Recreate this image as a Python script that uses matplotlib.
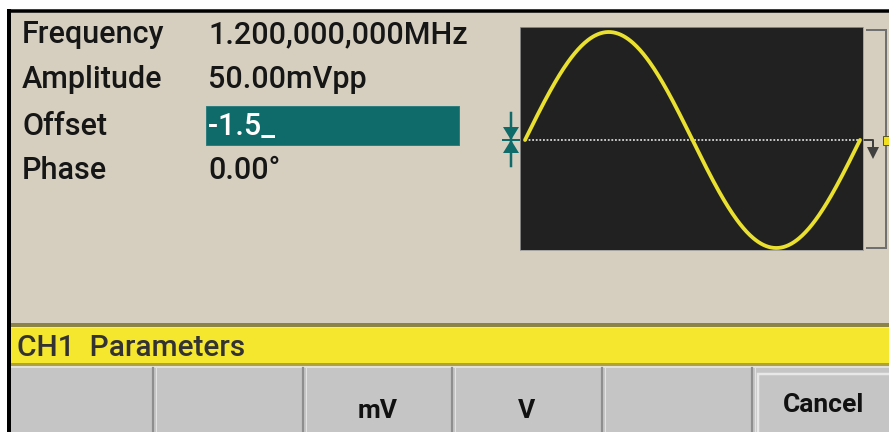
"""
plot.py

Recreates the CH1 Parameters screen of a function generator.
"""

import numpy as np
import matplotlib.pyplot as plt
from matplotlib.patches import Rectangle, Polygon


# ==========================================================
# Data
# ==========================================================

PARAM_LABELS = ["Frequency", "Amplitude", "Offset", "Phase"]
PARAM_VALUES = ["1.200,000,000MHz", "50.00mVpp", "-1.5_", "0.00°"]
ACTIVE_PARAM = "Offset"

STATUS_TEXT = "CH1  Parameters"

SOFTKEYS = ["", "", "mV", "V", "", "Cancel"]

# displayed waveform: one sine cycle, phase in degrees
WAVE_PHASE_DEG = 0.0
WAVE_CYCLES = 1


# ==========================================================
# Colours
# ==========================================================

BG = "#D6CFC0"
TEAL = "#0E6B6A"
SCOPE_BG = "#212121"
WAVE = "#EAE030"
YELLOW = "#F5E62E"
OLIVE = "#8C8447"
KEY_GRAY = "#C5C5C5"
TEXT = "#161616"

FONT = ["Roboto", "DejaVu Sans"]

PX = 0.72  # points per pixel at dpi 100


fig = plt.figure(figsize=(8.89, 4.32), dpi=100)
fig.patch.set_facecolor("white")

ax = fig.add_axes([0, 0, 1, 1])
ax.set_xlim(0, 889)
ax.set_ylim(432, 0)
ax.axis("off")


# ==========================================================
# Panel background and frame
# ==========================================================

ax.add_patch(Rectangle((9, 11), 880, 313, facecolor=BG, edgecolor="none"))

ax.plot([7, 889], [10.5, 10.5], color="black", lw=3.5 * PX,
        solid_capstyle="butt")
ax.plot([9, 9], [9, 432], color="black", lw=4 * PX,
        solid_capstyle="butt")


# ==========================================================
# Parameter list
# ==========================================================

row_baselines = [43, 88, 135, 179]

for label, value, yb in zip(PARAM_LABELS, PARAM_VALUES, row_baselines):

    ax.text(22, yb, label, fontsize=22, family=FONT, fontweight="medium",
            color=TEXT, va="baseline", ha="left")

    value_color = TEXT

    if label == ACTIVE_PARAM:

        ax.add_patch(Rectangle((206, 106), 253, 39, facecolor=TEAL,
                               edgecolor="#2E7E7D", lw=1 * PX))
        value_color = "white"

    ax.text(208, yb, value, fontsize=22, family=FONT, fontweight="medium",
            color=value_color, va="baseline", ha="left")


# ==========================================================
# Waveform display
# ==========================================================

# scope box in pixels: x 520..863, y 27..250
scope = fig.add_axes([520 / 889, (432 - 250) / 432, 343 / 889, 223 / 432])
scope.set_facecolor(SCOPE_BG)

deg = np.linspace(0, 360 * WAVE_CYCLES, 400)
wave = np.sin(np.radians(deg + WAVE_PHASE_DEG))

scope.plot([0, 360 * WAVE_CYCLES], [0, 0], color="#D8D8D8",
           lw=1.8 * PX, linestyle=(0, (1.0, 1.0)))
scope.plot(deg, wave, color=WAVE, lw=3.8 * PX, solid_capstyle="round")

scope.set_xlim(-5 * 360 / 335, 360 + 3 * 360 / 335)
scope.set_ylim(-110 / 108, 113 / 108)
scope.set_xticks([])
scope.set_yticks([])

for side in scope.spines.values():
    side.set_color("#9A9A9A")
    side.set_linewidth(0.8 * PX)


# offset marker on the left
ax.plot([511, 511], [113, 166], color=TEAL, lw=2.5 * PX)
ax.plot([503, 524], [140, 140], color=TEAL, lw=2 * PX)
ax.add_patch(Polygon([(503, 127), (519, 127), (511, 140)],
                     closed=True, facecolor=TEAL, edgecolor="none"))
ax.add_patch(Polygon([(503, 153), (519, 153), (511, 140)],
                     closed=True, facecolor=TEAL, edgecolor="none"))

# output reference arrow on the right
ax.plot([860, 873, 873], [140, 140, 150], color="#404040", lw=2 * PX,
        zorder=5)
ax.add_patch(Polygon([(867, 147), (879, 147), (873, 159)],
                     closed=True, facecolor="#404040", edgecolor="none",
                     zorder=5))

# amplitude bracket
ax.plot([867, 886, 886, 867], [30, 30, 248, 248], color="#707070",
        lw=2 * PX, solid_joinstyle="miter")
ax.add_patch(Rectangle((883, 136), 8, 9, facecolor="#F2E020",
                       edgecolor="#5A5A20", lw=1 * PX, zorder=6))


# ==========================================================
# Status bar
# ==========================================================

ax.add_patch(Rectangle((11, 323), 878, 3.5, facecolor=OLIVE,
                       edgecolor="none"))
ax.add_patch(Rectangle((11, 326.5), 878, 1.5, facecolor="#ECE8B0",
                       edgecolor="none"))
ax.add_patch(Rectangle((11, 328), 878, 35, facecolor=YELLOW,
                       edgecolor="none"))
ax.add_patch(Rectangle((11, 363), 878, 3, facecolor="#B0A23A",
                       edgecolor="none"))
ax.add_patch(Rectangle((11, 366), 878, 2, facecolor="#E2E2D8",
                       edgecolor="none"))

ax.text(17, 356, STATUS_TEXT, fontsize=21.5, family=FONT,
        fontweight="medium", color="#333333", va="baseline", ha="left")


# ==========================================================
# Softkeys
# ==========================================================

ax.add_patch(Rectangle((11, 368), 878, 64, facecolor=KEY_GRAY,
                       edgecolor="none"))

key_edges = [11, 153, 303, 452, 602, 752, 889]

for x in key_edges[1:-1]:

    ax.plot([x, x], [368, 432], color="#8E8E8E", lw=2.2 * PX)
    ax.plot([x + 2.5, x + 2.5], [368, 432], color="#E2E2E2", lw=1 * PX)

# raised look of the last key
ax.plot([758, 758, 889], [432, 374, 374], color="#E8E8E8", lw=2.5 * PX,
        solid_joinstyle="miter")

for i, key in enumerate(SOFTKEYS):

    if not key:
        continue

    left = key_edges[i]
    right = key_edges[i + 1]
    yb = 418

    if key == "Cancel":
        left = 758
        yb = 412

    ax.text((left + right) / 2, yb, key, fontsize=19, family=FONT,
            fontweight="bold", color="#111111", va="baseline",
            ha="center")


plt.savefig("out.png", dpi=100)
